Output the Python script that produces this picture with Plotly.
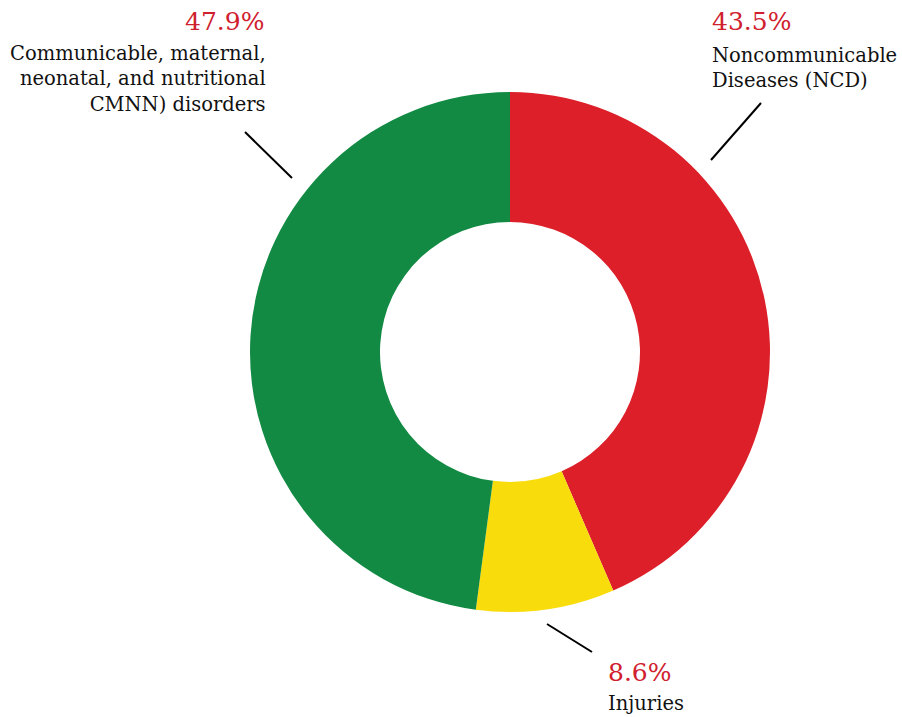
import plotly.graph_objects as go

labels = ["Noncommunicable Diseases (NCD)", "Injuries",
          "Communicable, maternal, neonatal, and nutritional CMNN) disorders"]
values = [43.5, 8.6, 47.9]
colors = ["#DC1F28", "#F8DC0B", "#128A43"]
pct_text = ["43.5%", "8.6%", "47.9%"]
label_text = ["Noncommunicable<br>Diseases (NCD)", "Injuries",
              "Communicable, maternal,<br>neonatal, and nutritional<br>CMNN) disorders"]

W, H = 902, 717
def px(x): return x / W
def py(y): return 1 - y / H

fig = go.Figure(go.Pie(
    labels=labels, values=values, hole=0.5, sort=False, direction="clockwise",
    rotation=0, marker=dict(colors=colors, line=dict(width=0)),
    textinfo="none", hoverinfo="label+percent",
    domain=dict(x=[px(250), px(770)], y=[py(612), py(92)]),
))

FONT = "'DejaVu Serif', serif"
LS = 19.5
PS = 25
ann = []
# NCD
ann.append(dict(x=px(710), y=py(22), text=pct_text[0], xanchor="left", yanchor="middle",
                font=dict(family=FONT, size=PS, color="#D0202E")))
ann.append(dict(x=px(710), y=py(68), text=label_text[0], xanchor="left", yanchor="middle",
                align="left", font=dict(family=FONT, size=LS, color="#111")))
# Injuries
ann.append(dict(x=px(606), y=py(672), text=pct_text[1], xanchor="left", yanchor="middle",
                font=dict(family=FONT, size=PS, color="#D0202E")))
ann.append(dict(x=px(606), y=py(703), text=label_text[1], xanchor="left", yanchor="middle",
                align="left", font=dict(family=FONT, size=LS, color="#111")))
# CMNN
ann.append(dict(x=px(266), y=py(22), text=pct_text[2], xanchor="right", yanchor="middle",
                font=dict(family=FONT, size=PS, color="#D0202E")))
ann.append(dict(x=px(268), y=py(79), text=label_text[2], xanchor="right", yanchor="middle",
                align="right", font=dict(family=FONT, size=LS, color="#111")))
for a in ann:
    a.update(xref="paper", yref="paper", showarrow=False)

lines = [((711, 160), (761, 103)), ((245, 132), (292, 178)), ((547, 624), (592, 652))]
shapes = [dict(type="line", xref="paper", yref="paper", x0=px(a[0]), y0=py(a[1]),
               x1=px(b[0]), y1=py(b[1]), line=dict(color="black", width=2))
          for a, b in lines]

fig.update_layout(width=W, height=H, margin=dict(l=0, r=0, t=0, b=0),
                  paper_bgcolor="white", plot_bgcolor="white", showlegend=False,
                  annotations=ann, shapes=shapes)
fig.write_html("out.html")
